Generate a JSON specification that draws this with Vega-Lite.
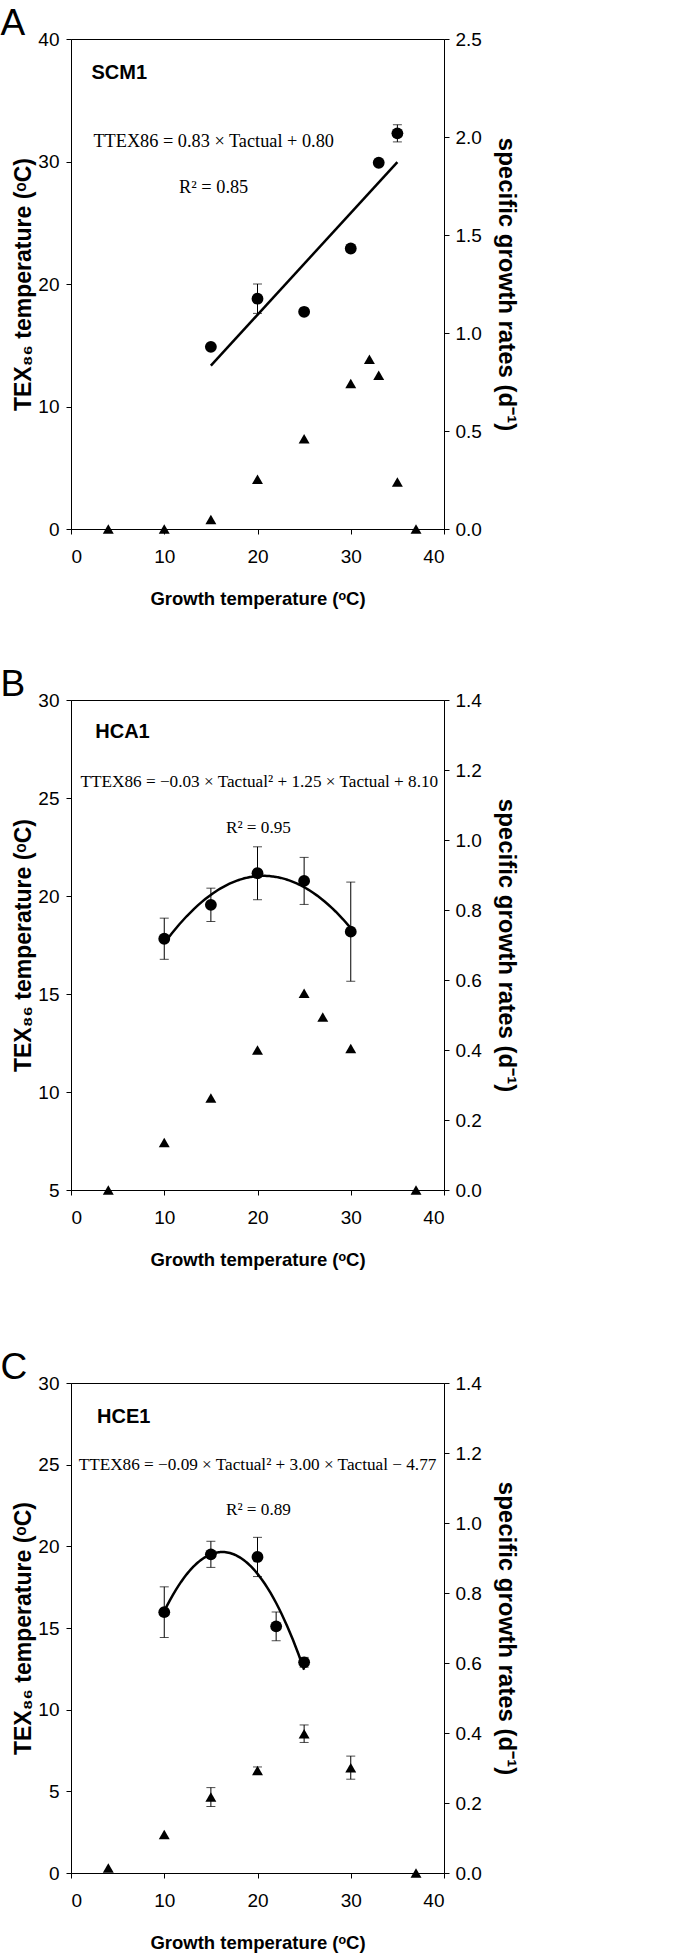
{
  "$schema": "https://vega.github.io/schema/vega-lite/v6.json",
  "background": "white",
  "padding": {"left": 0, "top": 4, "right": 5, "bottom": 2},
  "config": {
    "view": {"stroke": "black", "strokeWidth": 1},
    "axis": {
      "grid": false, "domainColor": "black", "domainWidth": 1, "tickColor": "black", "tickSize": 5,
      "labelFont": "Liberation Sans Narrow, Liberation Sans", "labelFontSize": 19, "labelColor": "black",
      "titleFont": "Liberation Sans", "titleFontWeight": "bold", "titleFontSize": 18.5, "titleColor": "black"
    },
    "title": {"anchor": "start", "frame": "bounds", "font": "Liberation Sans Narrow, Liberation Sans", "fontSize": 37, "fontWeight": "normal", "color": "black", "offset": -13, "dx": -12.25}
  },
  "datasets": {
    "A_tex": [
      {"t": 15, "v": 14.87, "err": 0}, {"t": 20, "v": 18.8, "err": 1.2}, {"t": 25, "v": 17.73, "err": 0},
      {"t": 30, "v": 22.9, "err": 0}, {"t": 33, "v": 29.9, "err": 0}, {"t": 35, "v": 32.3, "err": 0.7}
    ],
    "A_rate": [
      {"t": 4, "r": 0, "err": 0}, {"t": 10, "r": 0, "err": 0}, {"t": 15, "r": 0.048, "err": 0}, {"t": 20, "r": 0.254, "err": 0},
      {"t": 25, "r": 0.461, "err": 0}, {"t": 30, "r": 0.742, "err": 0}, {"t": 32, "r": 0.866, "err": 0}, {"t": 33, "r": 0.785, "err": 0},
      {"t": 35, "r": 0.24, "err": 0}, {"t": 37, "r": 0, "err": 0}
    ],
    "A_name": [{"t": 2.2, "v": 36.7, "label": "SCM1"}],
    "A_eq": [
      {"t": 15.3, "v": 31.2, "label": "TTEX86 = 0.83 × Tactual + 0.80"},
      {"t": 15.3, "v": 27.4, "label": "R² = 0.85"}
    ],
    "B_tex": [
      {"t": 10, "v": 17.82, "err": 1.05}, {"t": 15, "v": 19.55, "err": 0.85}, {"t": 20, "v": 21.16, "err": 1.35},
      {"t": 25, "v": 20.77, "err": 1.2}, {"t": 30, "v": 18.18, "err": 2.53}
    ],
    "B_rate": [
      {"t": 4, "r": 0, "err": 0}, {"t": 10, "r": 0.136, "err": 0}, {"t": 15, "r": 0.263, "err": 0}, {"t": 20, "r": 0.4, "err": 0},
      {"t": 25, "r": 0.562, "err": 0}, {"t": 27, "r": 0.494, "err": 0}, {"t": 30, "r": 0.404, "err": 0}, {"t": 37, "r": 0, "err": 0}
    ],
    "B_name": [{"t": 2.6, "v": 28.06, "label": "HCA1"}],
    "B_eq": [
      {"t": 20.2, "v": 25.54, "label": "TTEX86 = −0.03 × Tactual² + 1.25 × Tactual + 8.10"},
      {"t": 20.1, "v": 23.19, "label": "R² = 0.95"}
    ],
    "C_tex": [
      {"t": 10, "v": 15.97, "err": 1.55}, {"t": 15, "v": 19.51, "err": 0.8}, {"t": 20, "v": 19.35, "err": 1.2},
      {"t": 22, "v": 15.1, "err": 0.88}, {"t": 25, "v": 12.9, "err": 0.3}
    ],
    "C_rate": [
      {"t": 4, "r": 0.014, "err": 0}, {"t": 10, "r": 0.11, "err": 0}, {"t": 15, "r": 0.217, "err": 0.027}, {"t": 20, "r": 0.293, "err": 0.01},
      {"t": 25, "r": 0.398, "err": 0.025}, {"t": 30, "r": 0.301, "err": 0.033}, {"t": 37, "r": 0, "err": 0}
    ],
    "C_name": [{"t": 2.8, "v": 27.58, "label": "HCE1"}],
    "C_eq": [
      {"t": 20.0, "v": 24.67, "label": "TTEX86 = −0.09 × Tactual² + 3.00 × Tactual − 4.77"},
      {"t": 20.1, "v": 21.9, "label": "R² = 0.89"}
    ]
  },
  "spacing": 57,
  "vconcat": [
    {
      "width": 373, "height": 490,
      "title": {"text": "A"},
      "encoding": {
        "x": {"field": "t", "type": "quantitative", "scale": {"domain": [0, 40], "nice": false},
              "axis": {"values": [0, 10, 20, 30, 40], "title": "Growth temperature (ᵒC)", "labelPadding": 13, "titlePadding": 23}}
      },
      "layer": [
        {
          "encoding": {
            "y": {"field": "v", "type": "quantitative", "scale": {"domain": [0, 40], "nice": false, "zero": false},
                  "axis": {"orient": "left", "values": [0, 10, 20, 30, 40], "title": "TEX₈₆ temperature (ᵒC)", "titleFontSize": 23, "labelPadding": 7, "titlePadding": 2}}
          },
          "layer": [
            {"data": {"name": "A_tex"}, "transform": [{"regression": "v", "on": "t"}],
             "mark": {"type": "line", "color": "black", "strokeWidth": 2.5}},
            {"data": {"name": "A_tex"}, "transform": [{"filter": "datum.err > 0"}],
             "mark": {"type": "errorbar", "ticks": {"size": 9, "color": "black", "thickness": 1}, "rule": {"color": "black", "strokeWidth": 1}},
             "encoding": {"yError": {"field": "err"}}},
            {"data": {"name": "A_tex"}, "mark": {"type": "point", "shape": "circle", "filled": true, "color": "black", "opacity": 1, "size": 140}},
            {"data": {"name": "A_name"}, "mark": {"type": "text", "font": "Liberation Sans", "fontWeight": "bold", "fontSize": 20, "align": "left", "baseline": "alphabetic", "color": "black"},
             "encoding": {"text": {"field": "label"}}},
            {"data": {"name": "A_eq"}, "mark": {"type": "text", "font": "Liberation Serif", "fontSize": 18.3, "align": "center", "baseline": "alphabetic", "color": "black"},
             "encoding": {"text": {"field": "label"}}}
          ]
        },
        {
          "encoding": {
            "y": {"field": "r", "type": "quantitative", "scale": {"domain": [0, 2.5], "nice": false, "zero": false},
                  "axis": {"orient": "right", "values": [0, 0.5, 1, 1.5, 2, 2.5], "format": ".1f", "title": "specific growth rates (d⁻¹)", "titleFontSize": 24, "labelPadding": 6, "titlePadding": 12}}
          },
          "layer": [
            {"data": {"name": "A_rate"}, "mark": {"type": "point", "shape": "triangle-up", "filled": true, "color": "black", "opacity": 1, "size": 120}}
          ]
        }
      ],
      "resolve": {"scale": {"y": "independent"}}
    },
    {
      "spacing": 79,
      "vconcat": [
        {
          "width": 373, "height": 490,
          "title": {"text": "B"},
          "encoding": {
            "x": {"field": "t", "type": "quantitative", "scale": {"domain": [0, 40], "nice": false},
                  "axis": {"values": [0, 10, 20, 30, 40], "title": "Growth temperature (ᵒC)", "labelPadding": 13, "titlePadding": 23}}
          },
          "layer": [
            {
              "encoding": {
                "y": {"field": "v", "type": "quantitative", "scale": {"domain": [5, 30], "nice": false, "zero": false},
                      "axis": {"orient": "left", "values": [5, 10, 15, 20, 25, 30], "title": "TEX₈₆ temperature (ᵒC)", "titleFontSize": 23, "labelPadding": 7, "titlePadding": 2}}
              },
              "layer": [
                {"data": {"name": "B_tex"}, "transform": [{"regression": "v", "on": "t", "method": "poly", "order": 2}],
                 "mark": {"type": "line", "color": "black", "strokeWidth": 2.5}},
                {"data": {"name": "B_tex"}, "transform": [{"filter": "datum.err > 0"}],
                 "mark": {"type": "errorbar", "ticks": {"size": 9, "color": "black", "thickness": 1}, "rule": {"color": "black", "strokeWidth": 1}},
                 "encoding": {"yError": {"field": "err"}}},
                {"data": {"name": "B_tex"}, "mark": {"type": "point", "shape": "circle", "filled": true, "color": "black", "opacity": 1, "size": 140}},
                {"data": {"name": "B_name"}, "mark": {"type": "text", "font": "Liberation Sans", "fontWeight": "bold", "fontSize": 20, "align": "left", "baseline": "alphabetic", "color": "black"},
                 "encoding": {"text": {"field": "label"}}},
                {"data": {"name": "B_eq"}, "mark": {"type": "text", "font": "Liberation Serif", "fontSize": 17.2, "align": "center", "baseline": "alphabetic", "color": "black"},
                 "encoding": {"text": {"field": "label"}}}
              ]
            },
            {
              "encoding": {
                "y": {"field": "r", "type": "quantitative", "scale": {"domain": [0, 1.4], "nice": false, "zero": false},
                      "axis": {"orient": "right", "values": [0, 0.2, 0.4, 0.6, 0.8, 1, 1.2, 1.4], "format": ".1f", "title": "specific growth rates (d⁻¹)", "titleFontSize": 24, "labelPadding": 6, "titlePadding": 12}}
              },
              "layer": [
                {"data": {"name": "B_rate"}, "mark": {"type": "point", "shape": "triangle-up", "filled": true, "color": "black", "opacity": 1, "size": 120}}
              ]
            }
          ],
          "resolve": {"scale": {"y": "independent"}}
        },
        {
          "width": 373, "height": 490,
          "title": {"text": "C"},
          "encoding": {
            "x": {"field": "t", "type": "quantitative", "scale": {"domain": [0, 40], "nice": false},
                  "axis": {"values": [0, 10, 20, 30, 40], "title": "Growth temperature (ᵒC)", "labelPadding": 13, "titlePadding": 23}}
          },
          "layer": [
            {
              "encoding": {
                "y": {"field": "v", "type": "quantitative", "scale": {"domain": [0, 30], "nice": false, "zero": false},
                      "axis": {"orient": "left", "values": [0, 5, 10, 15, 20, 25, 30], "title": "TEX₈₆ temperature (ᵒC)", "titleFontSize": 23, "labelPadding": 7, "titlePadding": 2}}
              },
              "layer": [
                {"data": {"name": "C_tex"}, "transform": [{"regression": "v", "on": "t", "method": "poly", "order": 2}],
                 "mark": {"type": "line", "color": "black", "strokeWidth": 2.5}},
                {"data": {"name": "C_tex"}, "transform": [{"filter": "datum.err > 0"}],
                 "mark": {"type": "errorbar", "ticks": {"size": 9, "color": "black", "thickness": 1}, "rule": {"color": "black", "strokeWidth": 1}},
                 "encoding": {"yError": {"field": "err"}}},
                {"data": {"name": "C_tex"}, "mark": {"type": "point", "shape": "circle", "filled": true, "color": "black", "opacity": 1, "size": 140}},
                {"data": {"name": "C_name"}, "mark": {"type": "text", "font": "Liberation Sans", "fontWeight": "bold", "fontSize": 20, "align": "left", "baseline": "alphabetic", "color": "black"},
                 "encoding": {"text": {"field": "label"}}},
                {"data": {"name": "C_eq"}, "mark": {"type": "text", "font": "Liberation Serif", "fontSize": 17.2, "align": "center", "baseline": "alphabetic", "color": "black"},
                 "encoding": {"text": {"field": "label"}}}
              ]
            },
            {
              "encoding": {
                "y": {"field": "r", "type": "quantitative", "scale": {"domain": [0, 1.4], "nice": false, "zero": false},
                      "axis": {"orient": "right", "values": [0, 0.2, 0.4, 0.6, 0.8, 1, 1.2, 1.4], "format": ".1f", "title": "specific growth rates (d⁻¹)", "titleFontSize": 24, "labelPadding": 6, "titlePadding": 12}}
              },
              "layer": [
                {"data": {"name": "C_rate"}, "transform": [{"filter": "datum.err > 0"}],
                 "mark": {"type": "errorbar", "ticks": {"size": 9, "color": "black", "thickness": 1}, "rule": {"color": "black", "strokeWidth": 1}},
                 "encoding": {"yError": {"field": "err"}}},
                {"data": {"name": "C_rate"}, "mark": {"type": "point", "shape": "triangle-up", "filled": true, "color": "black", "opacity": 1, "size": 120}}
              ]
            }
          ],
          "resolve": {"scale": {"y": "independent"}}
        }
      ]
    }
  ]
}
